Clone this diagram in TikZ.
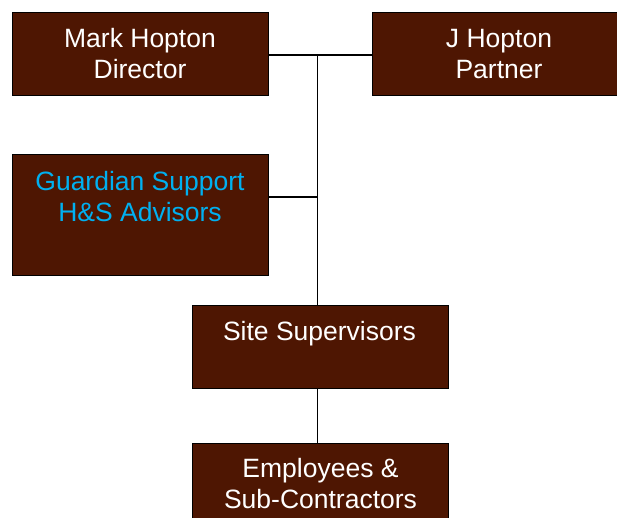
\documentclass[tikz,border=0pt]{standalone}
\usepackage{fontspec}
\setmainfont{Liberation Sans}
\usetikzlibrary{calc}
\definecolor{boxbrown}{RGB}{78,22,2}
\definecolor{advblue}{RGB}{0,176,240}
\tikzset{
  orgbox/.style={draw=black, line width=1pt, fill=boxbrown, rectangle,
    minimum width=256pt, minimum height=83pt, inner sep=0pt, anchor=north west},
  tall/.style={minimum height=121pt},
  lbl/.style={text=white, inner sep=0pt, anchor=base,
    font=\fontsize{26.5}{31.5}\selectfont},
  link/.style={draw=black, line width=1.5pt}
}
\begin{document}
\begin{tikzpicture}[x=1pt, y=-1pt]
  \useasboundingbox (0,0) rectangle (617,517);
  \fill[white] (0,0) rectangle (617,517);
  \clip (0,0) rectangle (617,517);

  % boxes
  \node[orgbox] (mark) at (12,12) {};
  \node[orgbox] (jh) at (372,12) {};
  \node[orgbox, tall] (guard) at (12,154) {};
  \node[orgbox] (site) at (192,305) {};
  \node[orgbox] (emp) at (192,443) {};

  % connectors
  \coordinate (hub) at (317.5,55);
  \coordinate (gjoin) at ($(guard.north east)+(0,43)$);
  \draw[link] (mark.east |- hub) -- (jh.west |- hub);
  \draw[link] (hub) -- (hub |- site.north);
  \draw[link] (gjoin) -- (gjoin -| hub);
  \draw[link] (hub |- site.south) -- (hub |- emp.north);

  % labels
  \node[lbl] (mark-a) at ($(mark.north)+(-0.5,35)$) {Mark Hopton};
  \node[lbl] (mark-b) at ($(mark.north)+(-0.5,66.5)$) {Director};
  \node[lbl] (jh-a) at (499,47) {J Hopton};
  \node[lbl] (jh-b) at (499,78.5) {Partner};
  \node[lbl, text=advblue] (guard-a) at ($(guard.north)+(-0.5,36)$) {Guardian Support};
  \node[lbl, text=advblue] (guard-b) at ($(guard.north)+(-0.5,67.5)$) {H\&S Advisors};
  \node[lbl] (site-a) at ($(site.north)+(-1,35)$) {Site Supervisors};
  \node[lbl] (emp-a) at ($(emp.north)+(0,34)$) {Employees \&};
  \node[lbl] (emp-b) at ($(emp.north)+(0,65.5)$) {Sub-Contractors};
\end{tikzpicture}
\end{document}
